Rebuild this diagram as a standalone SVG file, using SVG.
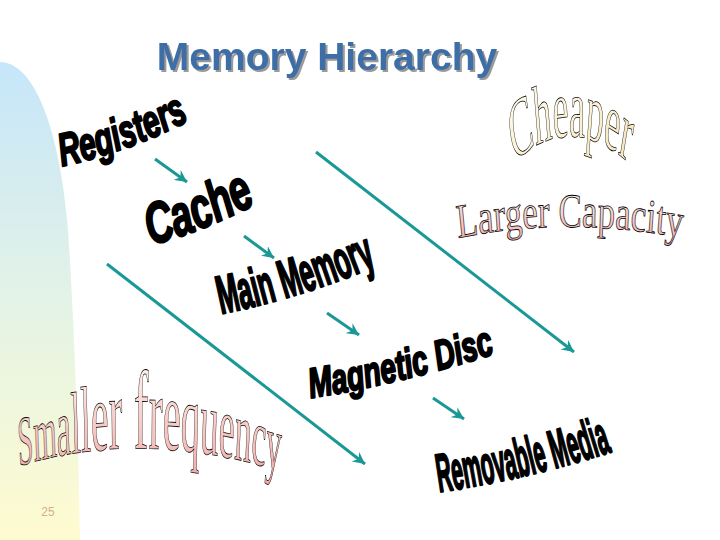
<svg xmlns="http://www.w3.org/2000/svg" width="720" height="540" viewBox="0 0 720 540">
<defs>
<linearGradient id="side" x1="0" y1="0" x2="0" y2="1">
<stop offset="0" stop-color="#c6e6fa"/>
<stop offset="0.55" stop-color="#e6f4e4"/>
<stop offset="1" stop-color="#fffbd0"/>
</linearGradient>
<linearGradient id="pink" x1="0" y1="0" x2="0" y2="1">
<stop offset="0" stop-color="#fffaf0"/>
<stop offset="1" stop-color="#f0a4a4"/>
</linearGradient>
<linearGradient id="cream" x1="0" y1="0" x2="1" y2="1">
<stop offset="0" stop-color="#fffef4"/>
<stop offset="1" stop-color="#f4e2b4"/>
</linearGradient>
<filter id="shadow" x="-5%" y="-20%" width="110%" height="140%">
<feDropShadow dx="2" dy="2" stdDeviation="0.3" flood-color="#9a9a9a" flood-opacity="1"/>
</filter>
<marker id="ah" markerUnits="userSpaceOnUse" markerWidth="14" markerHeight="12" refX="12" refY="6" orient="auto">
<path d="M0,0 L12,6 L0,12 L4,6 Z" fill="#1a9896"/>
</marker>
<path id="pReg" d="M 62,166 Q 130,152 198,116"/>
<path id="pCache" d="M 151,245 Q 205,231 266,199"/>
<path id="pMain" d="M 221,314 Q 300,298 382,264"/>
<path id="pMag" d="M 311,398 Q 400,384 504,351"/>
<path id="pRem" d="M 439,492 Q 530,479 620,449"/>
<path id="pCheap" d="M 1166,163 Q 1298,109 1434,165"/>
<path id="pLarger" d="M 627.4,238 Q 775.3,216 937,238"/>
<path id="pSmall" d="M 45,466 Q 345.2,428 672,472"/>
</defs>
<style>
.wa{font-family:"Liberation Sans",Arial,sans-serif;font-weight:bold;fill:#000;stroke:#000;stroke-width:2.2;stroke-linejoin:round}
.it{font-style:italic}
.ol{font-family:"Liberation Serif","Times New Roman",serif;stroke:#000;stroke-width:0.8}
.conn line{stroke:#1a9896;stroke-width:3;marker-end:url(#ah)}
</style>
<rect width="720" height="540" fill="#ffffff"/>
<path d="M0,62 C30,62 58,115 68,230 C74,320 78,430 80,540 L0,540 Z" fill="url(#side)"/>
<g id="title">
<text x="327" y="70" text-anchor="middle" font-family="Liberation Sans,Arial,sans-serif" font-weight="bold" font-size="39" fill="#3c6ea6" filter="url(#shadow)">Memory Hierarchy</text>
</g>
<g id="registers"><text class="wa it" font-size="46"><textPath href="#pReg" textLength="136" lengthAdjust="spacingAndGlyphs">Registers</textPath></text></g>
<g id="cache"><text class="wa it" font-size="58" stroke-width="3"><textPath href="#pCache" textLength="114" lengthAdjust="spacingAndGlyphs">Cache</textPath></text></g>
<g id="main-memory"><text class="wa" font-size="54"><textPath href="#pMain" textLength="164" lengthAdjust="spacingAndGlyphs">Main Memory</textPath></text></g>
<g id="magnetic-disc"><text class="wa it" font-size="42"><textPath href="#pMag" textLength="190" lengthAdjust="spacingAndGlyphs">Magnetic Disc</textPath></text></g>
<g id="removable-media"><text class="wa" font-size="54"><textPath href="#pRem" textLength="178" lengthAdjust="spacingAndGlyphs">Removable Media</textPath></text></g>
<g id="cheaper" transform="scale(0.44,1)"><text class="ol" font-size="84" stroke-width="1.4" fill="url(#cream)"><textPath href="#pCheap" textLength="270" lengthAdjust="spacingAndGlyphs">Cheaper</textPath></text></g>
<g id="larger-capacity" transform="scale(0.73,1)"><text class="ol" font-size="48" stroke-width="1" fill="url(#pink)"><textPath href="#pLarger" textLength="308" lengthAdjust="spacingAndGlyphs">Larger Capacity</textPath></text></g>
<g id="smaller-frequency" transform="scale(0.42,1)"><text class="ol" font-size="90" stroke-width="1.5" fill="url(#pink)"><textPath href="#pSmall" textLength="624" lengthAdjust="spacingAndGlyphs"><tspan font-size="70">S</tspan><tspan font-size="76">m</tspan><tspan font-size="82">a</tspan><tspan font-size="88">l</tspan><tspan font-size="94">l</tspan><tspan font-size="100">e</tspan><tspan font-size="104">r</tspan><tspan font-size="112"> f</tspan><tspan font-size="106">r</tspan><tspan font-size="102">e</tspan><tspan font-size="98">q</tspan><tspan font-size="94">u</tspan><tspan font-size="90">e</tspan><tspan font-size="86">n</tspan><tspan font-size="82">c</tspan><tspan font-size="78">y</tspan></textPath></text></g>
<g id="page"><text x="48" y="516" text-anchor="middle" font-family="Liberation Sans,Arial,sans-serif" font-size="12" fill="#d2b08c">25</text></g>
<g class="conn" id="connectors">
<line x1="155" y1="159" x2="187" y2="182"/>
<line x1="244" y1="236" x2="274" y2="258"/>
<line x1="327" y1="313" x2="359" y2="335"/>
<line x1="433" y1="398" x2="464" y2="419"/>
<line x1="316" y1="152" x2="574" y2="352"/>
<line x1="107" y1="264" x2="365" y2="464"/>
</g>
</svg>
